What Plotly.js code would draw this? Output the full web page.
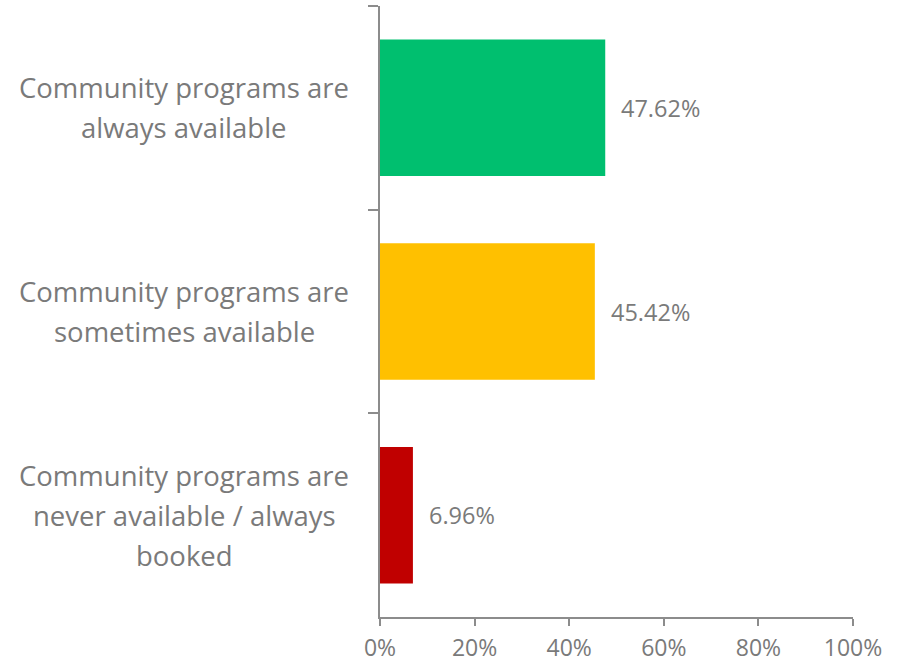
<!DOCTYPE html>
<html>
<head>
<meta charset="utf-8">
<script src="https://cdn.plot.ly/plotly-3.0.1.min.js"></script>
<style>
  html, body { margin: 0; padding: 0; background: #fff; }
  #chart { width: 903px; height: 664px; }
</style>
</head>
<body>
<div id="chart"></div>
<script>
// categories, top to bottom
let categories = ['always', 'sometimes', 'never'];
let labelLines = [
	['Community programs are', 'always available'],
	['Community programs are', 'sometimes available'],
	['Community programs are', 'never available / always', 'booked']
];
let shares = [47.62, 45.42, 6.96];
let barColors = ['#00BF6F', '#FFC000', '#C00000'];
let xTicks = [0, 20, 40, 60, 80, 100];

const grey = '#7a7a7a';
const font = 'Open Sans, Liberation Sans, sans-serif';

let bars = {
	type: 'bar',
	orientation: 'h',
	y: categories,
	x: shares,
	marker: {color: barColors},
	hoverinfo: 'none'
};

let annots = [];
// value labels to the right of the bars
for (let i = 0; i < categories.length; i++) {
	annots.push({
		x: shares[i], y: categories[i], xref: 'x', yref: 'y',
		text: shares[i].toFixed(2) + '%',
		showarrow: false, xanchor: 'left', xshift: 14,
		font: {family: font, size: 23.5, color: grey}
	});
}
// category labels, one annotation per line so line spacing can match
const lineGap = 40;
for (let i = 0; i < categories.length; i++) {
	let lines = labelLines[i];
	for (let j = 0; j < lines.length; j++) {
		annots.push({
			x: 0, y: categories[i], xref: 'paper', yref: 'y',
			text: lines[j],
			showarrow: false, xanchor: 'center', yanchor: 'middle',
			xshift: -196,
			yshift: ((lines.length - 1) / 2 - j) * lineGap,
			font: {family: font, size: 27.5, color: grey}
		});
	}
}

let layout = {
	width: 903,
	height: 664,
	margin: {l: 380, r: 50, t: 6, b: 47},
	paper_bgcolor: '#fff',
	plot_bgcolor: '#fff',
	showlegend: false,
	bargap: 0.33,
	font: {family: font, color: grey},
	xaxis: {
		range: [0, 100],
		tickvals: xTicks,
		ticktext: xTicks.map(v => v + '%'),
		showgrid: false,
		zeroline: false,
		showline: true,
		linecolor: '#8c8c8c',
		linewidth: 2,
		ticks: 'outside',
		ticklen: 7,
		tickwidth: 2,
		tickcolor: '#8c8c8c',
		ticklabelstandoff: 2,
		tickfont: {family: font, size: 23, color: grey},
		fixedrange: true
	},
	yaxis: {
		type: 'category',
		autorange: 'reversed',
		showticklabels: false,
		showgrid: false,
		zeroline: false,
		showline: true,
		linecolor: '#8c8c8c',
		linewidth: 2,
		ticks: 'outside',
		tickson: 'boundaries',
		ticklen: 10,
		tickwidth: 2,
		tickcolor: '#8c8c8c',
		fixedrange: true
	},
	annotations: annots
};

Plotly.newPlot('chart', [bars], layout, {displayModeBar: false, staticPlot: true});
</script>
</body>
</html>
